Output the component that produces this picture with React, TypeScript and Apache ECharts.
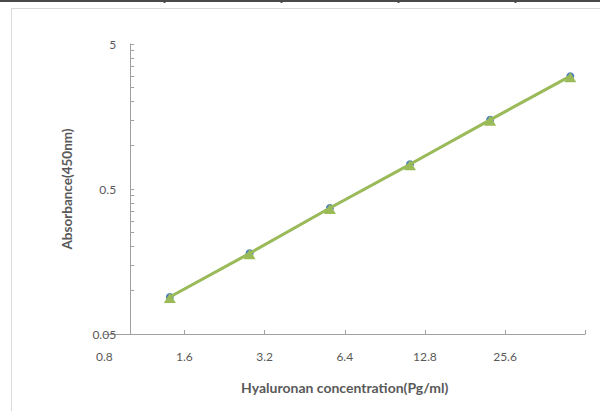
import { useEffect, useRef } from "react";
import * as echarts from "echarts";

// Data
const concentrations = [1.41, 2.81, 5.63, 11.25, 22.5, 45];
const absorbances = [0.09, 0.18, 0.37, 0.74, 1.5, 3.0];

// Axis tick / label values
const xLabelValues = [0.8, 1.6, 3.2, 6.4, 12.8, 25.6];
const xTickValues = [1.6, 3.2, 6.4, 12.8, 25.6, 51.2];
const yLabelValues = [0.05, 0.5, 5];
const yTickValues = [
  0.1, 0.15, 0.2, 0.25, 0.3, 0.35, 0.4, 0.45, 0.5,
  1, 1.5, 2, 2.5, 3, 3.5, 4, 4.5, 5,
];

const xName = "Hyaluronan concentration(Pg/ml)";
const yName = "Absorbance(450nm)";
const xMin = 0.8;
const xMax = 51.2;
const yMin = 0.05;
const yMax = 5;
const yCrossX = 1;

const textColor = "#595959";
const axisColor = "#a0a0a0";
const green = "#9BBB59";
const blue = "#4F81BD";

export default function App() {
  const ref = useRef<HTMLDivElement>(null);

  useEffect(() => {
    if (!ref.current) return;
    const chart = echarts.init(ref.current, null, { renderer: "svg" });
    const points = concentrations.map((c, i) => [c, absorbances[i]]);

    const option: any = {
      animation: false,
      backgroundColor: "#ffffff",
      grid: {
        left: 104.3,
        right: 14.8,
        top: 44,
        bottom: 77,
        containLabel: false,
        outerBoundsMode: "none",
      },
      xAxis: {
        type: "log",
        logBase: 2,
        min: xMin,
        max: xMax,
        name: xName,
        nameLocation: "middle",
        nameGap: 46,
        nameTextStyle: {
          fontFamily: "Lato",
          fontWeight: "bold",
          fontSize: 14,
          color: textColor,
        },
        axisLine: { show: true, lineStyle: { color: axisColor, width: 1 } },
        axisTick: {
          show: true,
          inside: true,
          length: 4,
          customValues: xTickValues,
          lineStyle: { color: axisColor },
        },
        axisLabel: {
          customValues: xLabelValues,
          margin: 16,
          fontFamily: "Lato",
          fontSize: 12,
          color: textColor,
          formatter: (v: number) => String(+(+v).toFixed(2)),
        },
        splitLine: { show: false },
        minorTick: { show: false },
      },
      yAxis: {
        type: "log",
        logBase: 10,
        min: yMin,
        max: yMax,
        offset: 0,
        name: yName,
        nameLocation: "middle",
        nameRotate: 90,
        nameGap: 56,
        nameTextStyle: {
          fontFamily: "Lato",
          fontWeight: "bold",
          fontSize: 13.5,
          color: textColor,
        },
        axisLine: { show: true, lineStyle: { color: axisColor, width: 1 } },
        axisTick: {
          show: true,
          inside: true,
          length: 4,
          customValues: yTickValues,
          lineStyle: { color: axisColor },
        },
        axisLabel: {
          customValues: yLabelValues,
          margin: 14,
          fontFamily: "Lato",
          fontSize: 12,
          color: textColor,
          formatter: (v: number) => String(+(+v).toFixed(2)),
        },
        splitLine: { show: false },
        minorTick: { show: false },
      },
      series: [
        {
          type: "line",
          data: points,
          symbol: "circle",
          symbolSize: 8,
          itemStyle: { color: blue },
          lineStyle: { color: blue, width: 2 },
          z: 2,
        },
        {
          type: "line",
          data: points,
          symbol: "triangle",
          symbolSize: [12, 10],
          symbolOffset: [0, 1],
          itemStyle: { color: green },
          lineStyle: { color: green, width: 3 },
          z: 3,
        },
      ],
      graphic: [
        {
          type: "rect",
          shape: { x: 11.5, y: 8.5, width: 620, height: 440 },
          style: { fill: "none", stroke: "#d9d9d9", lineWidth: 1 },
          z: -1,
        },
        {
          type: "rect",
          shape: { x: 0, y: 0, width: 600, height: 2 },
          style: { fill: "#4a4a4a" },
        },
        { type: "rect", shape: { x: 163.5, y: 0, width: 2, height: 3 }, style: { fill: "#4a4a4a" } },
        { type: "rect", shape: { x: 280.5, y: 0, width: 2, height: 3 }, style: { fill: "#4a4a4a" } },
        { type: "rect", shape: { x: 397.5, y: 0, width: 2, height: 3 }, style: { fill: "#4a4a4a" } },
        { type: "rect", shape: { x: 514.5, y: 0, width: 2, height: 3 }, style: { fill: "#4a4a4a" } },
      ],
    };

    chart.setOption(option);

    // Place the vertical axis where it crosses the x axis at x = 1 (as in the reference)
    const crossPx = chart.convertToPixel({ xAxisIndex: 0 }, yCrossX) as number;
    const leftPx = chart.convertToPixel({ xAxisIndex: 0 }, xMin) as number;
    if (isFinite(crossPx) && isFinite(leftPx)) {
      chart.setOption({ yAxis: { offset: -(crossPx - leftPx) } });
    }

    return () => chart.dispose();
  }, []);

  return (
    <div
      ref={ref}
      style={{ position: "fixed", left: 0, top: 0, width: 600, height: 411 }}
    />
  );
}
